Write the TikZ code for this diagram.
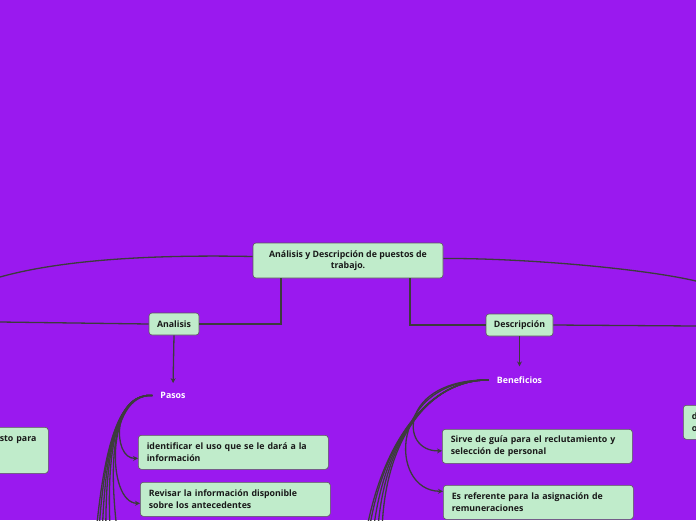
\documentclass[tikz,border=0pt]{standalone}
\usepackage{fontspec}
\setmainfont{Open Sans}
\usepackage{tikz}
\usetikzlibrary{arrows.meta,positioning}
\definecolor{mapbg}{HTML}{9A19EF}
\definecolor{boxgreen}{HTML}{C0ECCB}
\definecolor{boxedge}{HTML}{5A5A5A}
\definecolor{linegray}{HTML}{3C3C3C}

\begin{document}
\begin{tikzpicture}[x=1pt, y=-1pt, font=\fontsize{8.8}{11.5}\selectfont\bfseries]
\tikzset{topic/.style={draw=boxedge, fill=boxgreen, text=black!90, rounded corners=3pt, line width=0.6pt, align=center, inner sep=0pt},
  leaf/.style={topic, align=left, text width=173pt, minimum height=34pt, inner xsep=8.5pt},
  plain/.style={text=white, inner xsep=8pt, inner ysep=5pt},
  conn/.style={linegray, line width=1.3pt},
  arr/.style={conn, -{Stealth[length=5pt, width=5pt]}}}
% canvas
\fill[mapbg] (0,0) rectangle (696,520);
\useasboundingbox (0,0) rectangle (696,520);
\clip (0,0) rectangle (696,520);

% central topic and main branches
\node[topic, minimum width=190pt, minimum height=35pt] (root) at (348,260.5) {Análisis y Descripción de puestos de\\trabajo.};
\node[topic, minimum width=50pt, minimum height=22pt] (analisis) at (174,324) {Analisis};
\node[topic, minimum width=67pt, minimum height=22pt] (descripcion) at (519.5,325) {Descripción};
\node[plain] (pasos) at (173,395.5) {Pasos};
\node[plain] (beneficios) at (519.5,380) {Beneficios};

% leaves
\node[leaf, anchor=north west] (uso) at (138,435) {identificar el uso que se le dará a la\\información};
\node[leaf, anchor=north west] (antecedentes) at (140,482) {Revisar la información disponible\\sobre los antecedentes};
\node[leaf, anchor=north west] (reclutamiento) at (442,429) {Sirve de guía para el reclutamiento y\\selección de personal};
\node[leaf, anchor=north west] (remuneraciones) at (443,485) {Es referente para la asignación de\\remuneraciones};
\node[leaf, anchor=north west, text width=40pt, minimum height=46pt] (puestoizq) at (-9,427) {sto para\\\mbox{}\\\mbox{}};
\node[leaf, anchor=north west] (puestoder) at (683,405) {d\\o};

% free ends
\coordinate (leftout) at (0,277);
\coordinate (rightout) at (696,281);
\coordinate (analisisturn) at (281,324);
\coordinate (descturn) at (410,325);
\coordinate (analisisout) at (0,322);
\coordinate (descout) at (696,326);

\draw[conn] ([yshift=4pt]root.west) .. controls (130,254) and (50,263) .. (leftout);
\draw[conn] ([yshift=2pt]root.east) .. controls (520,258) and (640,268) .. (rightout);
\draw[conn] (root.south -| analisisturn) -- (analisisturn) -- (analisis.east);
\draw[conn] (root.south -| descturn) -- (descturn) -- (descripcion.west);
\draw[conn] (analisis.west) -- (analisisout);
\draw[conn] (descripcion.east) -- (descout);
\draw[arr, shorten >=4pt] (analisis.south) -- (pasos.north);
\draw[arr, shorten >=5pt] (descripcion.south) -- (beneficios.north);

% Pasos bundle
\draw[arr] (pasos.west) .. controls (112,393) and (112,459) .. ([yshift=-6pt]uso.west);
\draw[arr] (pasos.west) .. controls (106,393) and (106,503) .. ([yshift=-4pt]antecedentes.west);
\foreach \xe in {95,98,102,106,111,119}{
  \coordinate (pasosout) at (\xe,545);
  \draw[conn] (pasos.west) .. controls (120,393) and (104,440) .. (pasosout);
}

% Beneficios bundle
\draw[arr] (beneficios.west) .. controls (400,379) and (398,452) .. ([yshift=-4.5pt]reclutamiento.west);
\draw[arr] (beneficios.west) .. controls (388,379) and (388,491) .. ([yshift=11pt]remuneraciones.west);
\foreach \xe in {364,367,372,377,382}{
  \coordinate (beneout) at (\xe,545);
  \draw[conn] (beneficios.west) .. controls (430,379) and (380,440) .. (beneout);
}
\end{tikzpicture}
\end{document}
